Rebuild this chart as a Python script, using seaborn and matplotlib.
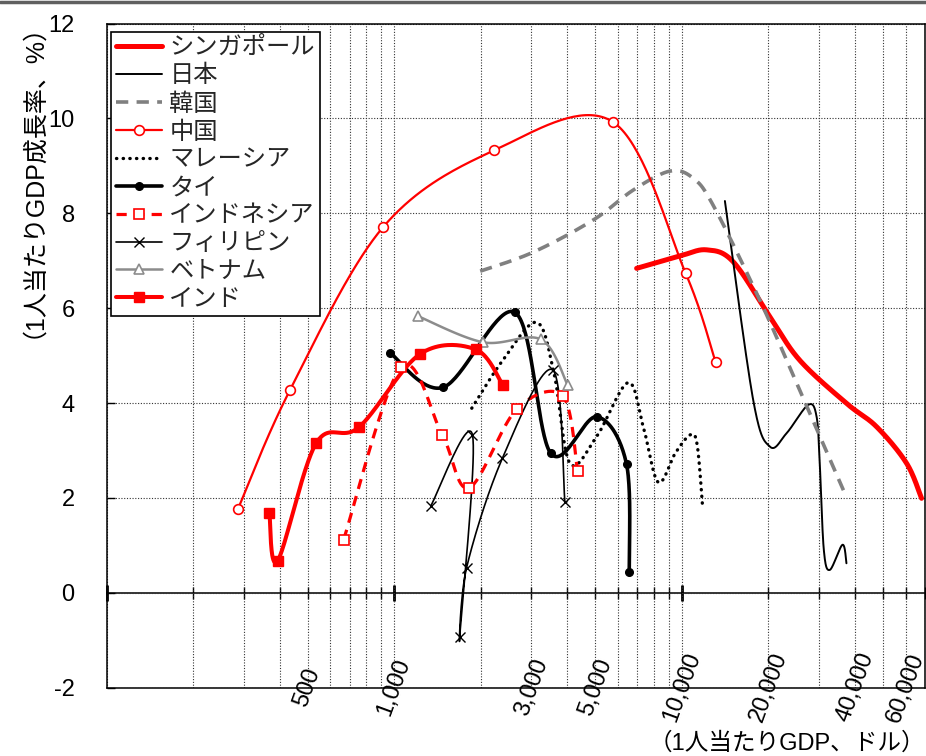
import numpy as np
import matplotlib
matplotlib.use("Agg")
import matplotlib.pyplot as plt
import seaborn as sns
from matplotlib.lines import Line2D
from matplotlib.ticker import LogLocator, NullFormatter

# ---------------- data ----------------
names = ["シンガポール", "日本", "韓国", "中国", "マレーシア", "タイ",
         "インドネシア", "フィリピン", "ベトナム", "インド"]

sg_x = [6960, 9840, 12200, 15070, 20230, 25700, 37400, 47500, 60400, 68100]
sg_y = [6.84, 7.10, 7.23, 6.98, 5.82, 4.90, 3.99, 3.50, 2.73, 1.99]

jp_x = [14110, 17700, 20230, 23100, 27480, 29400, 30180, 31150, 32670, 36170, 37330]
jp_y = [8.26, 4.06, 3.08, 3.36, 3.96, 3.71, 2.66, 0.90, 0.48, 1.01, 0.62]

kr_x = [1990, 3040, 4920, 6770, 9080, 10950, 12900, 18660, 25050, 37300]
kr_y = [6.78, 7.18, 7.86, 8.49, 8.89, 8.74, 8.15, 6.17, 4.42, 2.02]

cn_x = [286, 434, 915, 2230, 5750, 10300, 13100]
cn_y = [1.76, 4.27, 7.71, 9.33, 9.93, 6.74, 4.86]

my_x = [1860, 2390, 3130, 3600, 4080, 5050, 6500, 7340, 8270, 9500, 10700, 11300, 11800]
my_y = [3.89, 4.91, 5.70, 4.60, 2.73, 3.29, 4.43, 3.50, 2.33, 2.95, 3.33, 3.12, 1.82]

th_x = [966, 1480, 2630, 3500, 5050, 6420, 6560]
th_y = [5.06, 4.33, 5.91, 2.94, 3.71, 2.71, 0.44]

id_x = [667, 1055, 1470, 1820, 2665, 3850, 4340]
id_y = [1.12, 4.75, 3.32, 2.21, 3.87, 4.15, 2.56]

ph_x = [1340, 1870, 1690, 1785, 2375, 3550, 3920]
ph_y = [1.83, 3.33, -0.93, 0.53, 2.83, 4.70, 1.91]

vn_x = [1210, 2040, 3235, 4015]
vn_y = [5.83, 5.28, 5.34, 4.37]

in_x = [368, 393, 535, 754, 1228, 1920, 2390]
in_y = [1.69, 0.67, 3.15, 3.49, 5.03, 5.13, 4.37]

xtick_vals = [500, 1000, 3000, 5000, 10000, 20000, 40000, 60000]
xtick_labels = ["500", "1,000", "3,000", "5,000", "10,000", "20,000", "40,000", "60,000"]
ytick_vals = [-2, 0, 2, 4, 6, 8, 10, 12]


def smooth(xs, ys, n=40):
    """Render a smoothed (Catmull-Rom) path through the points, log-x space."""
    P = np.column_stack([np.log10(xs), ys]).astype(float)
    ext = np.vstack([P[0], P, P[-1]])
    t = np.linspace(0, 1, n)[:, None]
    h00 = 2 * t**3 - 3 * t**2 + 1
    h10 = t**3 - 2 * t**2 + t
    h01 = -2 * t**3 + 3 * t**2
    h11 = t**3 - t**2
    segs = []
    for i in range(len(P) - 1):
        p0, p1, p2, p3 = ext[i], ext[i + 1], ext[i + 2], ext[i + 3]
        m1 = (p2 - p0) / 2.0
        m2 = (p3 - p1) / 2.0
        seg = h00 * p1 + h10 * m1 + h01 * p2 + h11 * m2
        segs.append(seg if i == 0 else seg[1:])
    S = np.vstack(segs)
    return 10 ** S[:, 0], S[:, 1]


sns.set_theme(style="white")
plt.rcParams["font.family"] = ["Liberation Sans", "Noto Sans CJK JP"]
plt.rcParams["axes.unicode_minus"] = False

fig = plt.figure(figsize=(9.26, 7.56), dpi=100)
ax = fig.add_axes([0.1151, 0.0906, 0.8838, 0.8781])
ax.set_xscale("log")

RED = "#FF0000"
GRAY = "#808080"
VGRAY = "#8C8C8C"

series = [
    dict(x=sg_x, y=sg_y, color=RED, lw=3.6, ls="-"),
    dict(x=jp_x, y=jp_y, color="black", lw=1.4, ls="-"),
    dict(x=kr_x, y=kr_y, color=GRAY, lw=2.6, ls=(0, (3.4, 2.3))),
    dict(x=cn_x, y=cn_y, color=RED, lw=1.6, ls="-",
         marker="o", ms=7, mfc="white", mec=RED, mew=1.2),
    dict(x=my_x, y=my_y, color="black", lw=2.4, ls=(0, (0.1, 1.9)), cap="round"),
    dict(x=th_x, y=th_y, color="black", lw=2.6, ls="-",
         marker="o", ms=5.5, mfc="black", mec="black", mew=1),
    dict(x=id_x, y=id_y, color=RED, lw=2.3, ls=(0, (3.2, 2.3)),
         marker="s", ms=7, mfc="white", mec=RED, mew=1.2),
    dict(x=ph_x, y=ph_y, color="black", lw=1.2, ls="-",
         marker="x", ms=6.5, mfc="black", mec="black", mew=1.0),
    dict(x=vn_x, y=vn_y, color=VGRAY, lw=1.8, ls="-",
         marker="^", ms=7.5, mfc="white", mec=VGRAY, mew=1.2),
    dict(x=in_x, y=in_y, color=RED, lw=2.9, ls="-",
         marker="s", ms=7.5, mfc=RED, mec=RED, mew=1),
]

handles = []
for s in series:
    sx, sy = smooth(s["x"], s["y"])
    kw = dict(color=s["color"], linewidth=s["lw"], linestyle=s["ls"])
    if s.get("cap"):
        kw["dash_capstyle"] = s["cap"]
    sns.lineplot(x=sx, y=sy, sort=False, estimator=None, ax=ax, **kw)
    if s.get("marker"):
        ax.plot(s["x"], s["y"], linestyle="none", marker=s["marker"],
                markersize=s["ms"], markerfacecolor=s["mfc"],
                markeredgecolor=s["mec"], markeredgewidth=s["mew"], zorder=5)
    hk = dict(color=s["color"], linewidth=s["lw"], linestyle=s["ls"])
    if s.get("cap"):
        hk["dash_capstyle"] = s["cap"]
    if s.get("marker"):
        hk.update(marker=s["marker"], markersize=s["ms"], markerfacecolor=s["mfc"],
                  markeredgecolor=s["mec"], markeredgewidth=s["mew"])
    handles.append(Line2D([0], [0], **hk))

ax.set_xlim(100, 70000)
ax.set_ylim(-2, 12)

# x ticks / labels at the bottom frame
ax.set_xticks(xtick_vals, labels=xtick_labels)
ax.xaxis.set_minor_locator(LogLocator(base=10, subs=np.arange(1, 10), numticks=40))
ax.xaxis.set_minor_formatter(NullFormatter())
ax.tick_params(axis="x", which="both", length=0)
ax.tick_params(axis="x", which="major", pad=0, labelsize=17, colors="black")
for lbl in ax.get_xticklabels():
    lbl.set_rotation(70)
    lbl.set_ha("center")
    lbl.set_va("center")
    lbl.set_rotation_mode("anchor")

# y ticks
ax.set_yticks(ytick_vals)
ax.tick_params(axis="y", which="major", direction="in", length=6, width=1,
               pad=23, labelsize=17, colors="black", left=True, right=False)

# grid
gstyle = dict(color="#333333", linewidth=0.8, linestyle=(0, (1, 1.5)))
ax.grid(True, axis="x", which="both", **gstyle)
ax.grid(True, axis="y", which="major", **gstyle)

for sp in ax.spines.values():
    sp.set_color("black")
    sp.set_linewidth(1.1)

# zero axis line with log tick marks
sec = ax.secondary_xaxis(2.0 / 14.0)
sec.tick_params(axis="x", which="both", direction="inout",
                labelbottom=False, labeltop=False, colors="black")
sec.tick_params(axis="x", which="major", length=12, width=2)
sec.tick_params(axis="x", which="minor", length=9, width=1)
for sp in sec.spines.values():
    sp.set_color("black")
    sp.set_linewidth(1.1)

# labels
ax.set_ylabel("（1人当たりGDP成長率、%）", fontsize=18, color="black")
ax.yaxis.label.set_va("center")
ax.yaxis.set_label_coords(-0.106, 0.783)
ax.set_xlabel("（1人当たりGDP、ドル）", fontsize=17, color="black", loc="right")
ax.xaxis.set_label_coords(1.0, -0.067)

leg = ax.legend(handles=handles, labels=names, loc="upper left",
                bbox_to_anchor=(0.0054, 0.9875), borderaxespad=0,
                frameon=True, fancybox=False, edgecolor="black", framealpha=1,
                fontsize=17.5, handlelength=1.9, handletextpad=0.3,
                labelspacing=0.24, borderpad=0.2)
leg.get_frame().set_linewidth(1.2)

fig.add_artist(Line2D([0, 1], [0.998, 0.998], transform=fig.transFigure,
                      color="#606060", linewidth=2.5))

fig.savefig("out.png", dpi=100)
